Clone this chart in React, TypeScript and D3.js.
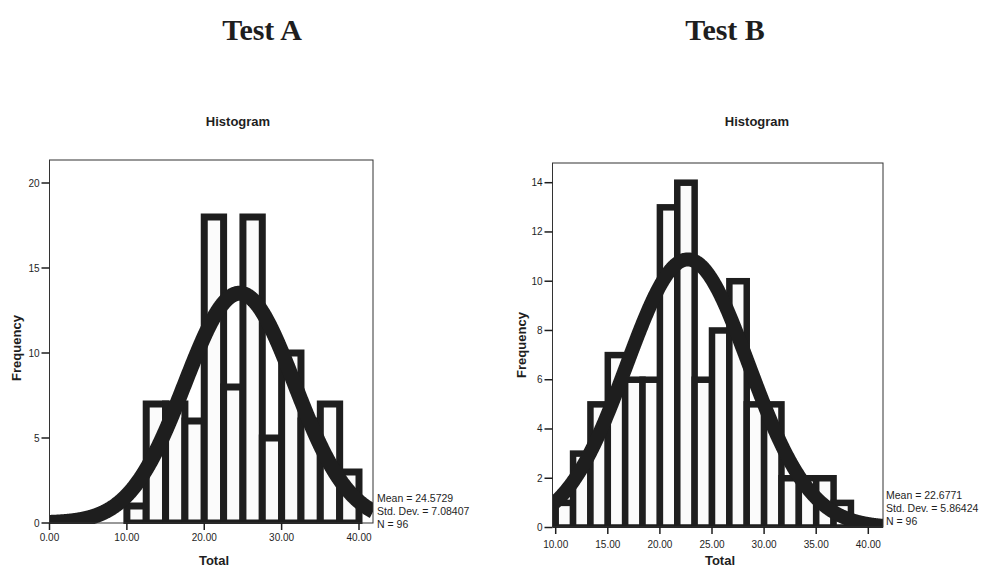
import React from 'react';
import * as d3 from 'd3';

// Test A: bins of 2.5, lower edges
const binsA = [10, 12.5, 15, 17.5, 20, 22.5, 25, 27.5, 30, 32.5, 35, 37.5];
const freqA = [1, 7, 7, 6, 18, 8, 18, 5, 10, 6, 7, 3];
const binWidthA = 2.5;
const meanA = 24.5729;
const sdA = 7.08407;
const nA = 96;
const xTicksA = [0, 10, 20, 30, 40];
const yTicksA = [0, 5, 10, 15, 20];

// Test B: bins of 5/3, lower edges
const binsB = [10, 11.667, 13.333, 15, 16.667, 18.333, 20, 21.667, 23.333, 25, 26.667, 28.333, 30, 31.667, 33.333, 35, 36.667];
const freqB = [1, 3, 5, 7, 6, 6, 13, 14, 6, 8, 10, 5, 5, 2, 2, 2, 1];
const binWidthB = 5 / 3;
const meanB = 22.6771;
const sdB = 5.86424;
const nB = 96;
const xTicksB = [10, 15, 20, 25, 30, 35, 40];
const yTicksB = [0, 2, 4, 6, 8, 10, 12, 14];

const SANS = '"Liberation Sans", Arial, sans-serif';
const SERIF = '"Liberation Serif", "Times New Roman", serif';
const INK = '#1e1e1e';

type Layout = {
  id: string;
  left: number; right: number; top: number; bottom: number;
  xDomain: [number, number]; xRange: [number, number];
  yDomain: [number, number]; yRange: [number, number];
  barStroke: number; curveStroke: number;
  title: string; titleX: number;
  histX: number; freqX: number; freqY: number;
  totalX: number; totalY: number; tickLabelY: number;
  statsX: number; statsY: number;
};

function Panel({ layout, bins, freq, binWidth, mean, sd, n, xTicks, yTicks }: {
  layout: Layout; bins: number[]; freq: number[]; binWidth: number;
  mean: number; sd: number; n: number; xTicks: number[]; yTicks: number[];
}) {
  const L = layout;
  const x = d3.scaleLinear().domain(L.xDomain).range(L.xRange);
  const y = d3.scaleLinear().domain(L.yDomain).range(L.yRange);
  const lo = x.invert(L.left);
  const hi = x.invert(L.right);
  const pts = d3.range(lo, hi + 0.05, 0.05).map(v => {
    const z = (v - mean) / sd;
    return [v, n * binWidth * Math.exp(-z * z / 2) / (sd * Math.sqrt(2 * Math.PI))];
  });
  const curve = d3.line<number[]>().x(d => x(d[0])).y(d => y(d[1])).curve(d3.curveBasis)(pts) || '';
  const clip = `clip-${L.id}`;
  const fmt = d3.format('.2f');

  return (
    <g>
      <text x={L.titleX} y={40} textAnchor="middle" fontFamily={SERIF} fontWeight="bold" fontSize={30} fill={INK}>{L.title}</text>
      <text x={L.histX} y={126} textAnchor="middle" fontFamily={SANS} fontWeight="bold" fontSize={13} fill={INK}>Histogram</text>
      <defs>
        <clipPath id={clip}>
          <rect x={L.left} y={L.top} width={L.right - L.left} height={L.bottom - L.top + 1} />
        </clipPath>
      </defs>
      <rect x={L.left} y={L.top} width={L.right - L.left} height={L.bottom - L.top} fill="#fff" />
      <g clipPath={`url(#${clip})`}>
        {bins.map((b, i) => (
          <rect key={i} x={x(b)} y={y(freq[i])} width={x(b + binWidth) - x(b)} height={y(0) - y(freq[i])}
            fill="#fbfbfb" stroke={INK} strokeWidth={L.barStroke} />
        ))}
        <path d={curve} fill="none" stroke={INK} strokeWidth={L.curveStroke} />
      </g>
      <rect x={L.left} y={L.top} width={L.right - L.left} height={L.bottom - L.top} fill="none" stroke="#333" strokeWidth={1} />
      {yTicks.map(t => (
        <g key={t}>
          <line x1={L.left - 8} x2={L.left} y1={y(t)} y2={y(t)} stroke={INK} strokeWidth={1.5} />
          <text x={L.left - 10} y={y(t) + 3.5} textAnchor="end" fontFamily={SANS} fontSize={10} fill={INK}>{t}</text>
        </g>
      ))}
      {xTicks.map(t => (
        <g key={t}>
          <line x1={x(t)} x2={x(t)} y1={L.bottom} y2={L.bottom + 7} stroke={INK} strokeWidth={1.5} />
          <text x={x(t)} y={L.tickLabelY} textAnchor="middle" fontFamily={SANS} fontSize={10} fill={INK}>{fmt(t)}</text>
        </g>
      ))}
      <text transform={`translate(${L.freqX},${L.freqY}) rotate(-90)`} textAnchor="middle" fontFamily={SANS} fontWeight="bold" fontSize={13} fill={INK}>Frequency</text>
      <text x={L.totalX} y={L.totalY} textAnchor="middle" fontFamily={SANS} fontWeight="bold" fontSize={13} fill={INK}>Total</text>
      <g fontFamily={SANS} fontSize={10.5} fill={INK}>
        <text x={L.statsX} y={L.statsY}>{`Mean = ${mean}`}</text>
        <text x={L.statsX} y={L.statsY + 13}>{`Std. Dev. = ${sd}`}</text>
        <text x={L.statsX} y={L.statsY + 26}>{`N = ${n}`}</text>
      </g>
    </g>
  );
}

const layoutA: Layout = {
  id: 'a', left: 49.5, right: 373, top: 160, bottom: 523,
  xDomain: [0, 40], xRange: [49.5, 359], yDomain: [0, 20], yRange: [523, 183],
  barStroke: 7, curveStroke: 15,
  title: 'Test A', titleX: 262, histX: 238, freqX: 21, freqY: 348,
  totalX: 214, totalY: 565, tickLabelY: 541,
  statsX: 377, statsY: 502,
};

const layoutB: Layout = {
  id: 'b', left: 552.5, right: 883, top: 163, bottom: 527,
  xDomain: [10, 40], xRange: [555.7, 868.3], yDomain: [0, 14], yRange: [527.5, 182.7],
  barStroke: 6.5, curveStroke: 14,
  title: 'Test B', titleX: 725, histX: 757, freqX: 526, freqY: 345,
  totalX: 720, totalY: 565, tickLabelY: 548,
  statsX: 886, statsY: 499,
};

export default function App() {
  return (
    <div style={{ position: 'absolute', left: 0, top: 0 }}>
      <svg width={984} height={569} style={{ display: 'block', background: '#fff' }}>
        <Panel layout={layoutA} bins={binsA} freq={freqA} binWidth={binWidthA} mean={meanA} sd={sdA} n={nA} xTicks={xTicksA} yTicks={yTicksA} />
        <Panel layout={layoutB} bins={binsB} freq={freqB} binWidth={binWidthB} mean={meanB} sd={sdB} n={nB} xTicks={xTicksB} yTicks={yTicksB} />
      </svg>
    </div>
  );
}
